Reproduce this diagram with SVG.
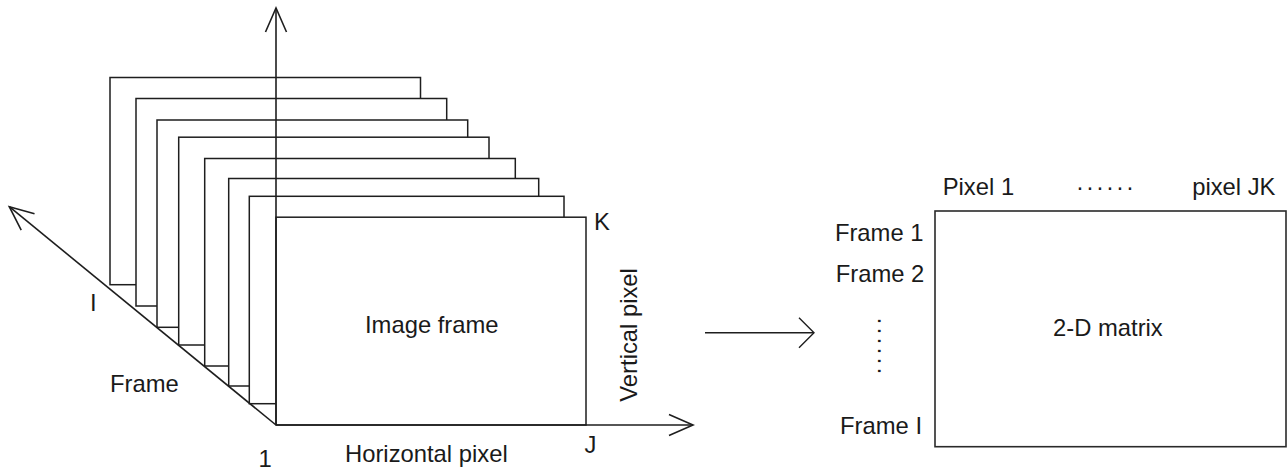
<svg xmlns="http://www.w3.org/2000/svg" width="1287" height="470" viewBox="0 0 1287 470">
  <style>
    .frame { fill: #ffffff; stroke: #1e1e1e; stroke-width: 1.5; }
    .matrix { fill: #ffffff; stroke: #2a2a2a; stroke-width: 1.6; }
    .axis { fill: none; stroke: #1e1e1e; stroke-width: 1.6; }
    .lbl { font-family: "Liberation Sans", Arial, sans-serif; font-size: 23.8px; fill: #1a1a1a; }
    .end { text-anchor: end; }
    .dots { font-family: "Liberation Sans", Arial, sans-serif; font-size: 23.8px; fill: #1a1a1a; letter-spacing: 2.1px; }
  </style>
  <defs>
    <!-- open chevron heads for the three axes -->
    <marker id="axisHead" markerUnits="userSpaceOnUse" viewBox="-26 -13 28 26" refX="0" refY="0" markerWidth="28" markerHeight="26" orient="auto" overflow="visible">
      <path d="M -24 -10.5 L 0 0 L -24 10.5" fill="none" stroke="#1e1e1e" stroke-width="1.6"/>
    </marker>
    <!-- wider chevron for the conversion arrow -->
    <marker id="convHead" markerUnits="userSpaceOnUse" viewBox="-17 -17 19 34" refX="0" refY="0" markerWidth="19" markerHeight="34" orient="auto" overflow="visible">
      <path d="M -15 -15 L 0 0 L -15 15" fill="none" stroke="#1e1e1e" stroke-width="1.4"/>
    </marker>
  </defs>

  <!-- stack of image frames, back to front -->
  <g id="frame-1"><rect class="frame" x="110" y="77.5" width="310.5" height="207.2"/></g>
  <g id="frame-2"><rect class="frame" x="136" y="98.5" width="310.7" height="207.5"/></g>
  <g id="frame-3"><rect class="frame" x="157" y="120" width="310.7" height="207.3"/></g>
  <g id="frame-4"><rect class="frame" x="178.7" y="137.2" width="310.3" height="207.8"/></g>
  <g id="frame-5"><rect class="frame" x="204.7" y="158.5" width="310.6" height="207.5"/></g>
  <g id="frame-6"><rect class="frame" x="228.7" y="178.5" width="310" height="207.5"/></g>
  <g id="frame-7"><rect class="frame" x="249.3" y="196.3" width="314.7" height="207.4"/></g>
  <g id="frame-front">
    <rect class="frame" x="276" y="217.2" width="310" height="207.8"/>
    <text class="lbl" x="365" y="333">Image frame</text>
  </g>

  <!-- 2-D matrix -->
  <g id="matrix">
    <rect class="matrix" x="935" y="211" width="351" height="235.7"/>
    <text class="lbl" x="1053" y="336">2-D matrix</text>
  </g>

  <!-- axes and conversion arrow -->
  <g id="connectors">
    <line class="axis" x1="276" y1="425" x2="276" y2="8" marker-end="url(#axisHead)"/>
    <line class="axis" x1="276" y1="425" x2="693" y2="425" marker-end="url(#axisHead)"/>
    <line class="axis" x1="276" y1="425" x2="9.3" y2="206.7" marker-end="url(#axisHead)"/>
    <line class="axis" x1="705" y1="332.7" x2="814" y2="332.7" stroke-width="1.4" marker-end="url(#convHead)"/>
  </g>

  <!-- axis labels -->
  <g id="axis-labels">
    <text class="lbl" x="594" y="230">K</text>
    <text class="lbl" transform="translate(637,401.7) rotate(-90)">Vertical pixel</text>
    <text class="lbl" x="584.5" y="453">J</text>
    <text class="lbl" x="345" y="461.7">Horizontal pixel</text>
    <text class="lbl" x="258.5" y="466.7">1</text>
    <text class="lbl" x="110" y="391.7">Frame</text>
    <text class="lbl" x="90" y="311">I</text>
  </g>

  <!-- matrix row / column labels -->
  <g id="matrix-labels">
    <text class="lbl" x="942.7" y="195">Pixel 1</text>
    <text class="dots" x="1076" y="195">······</text>
    <text class="lbl end" x="1275.5" y="195">pixel JK</text>
    <text class="lbl end" x="923.5" y="240.7">Frame 1</text>
    <text class="lbl end" x="924.3" y="281.7">Frame 2</text>
    <text class="dots" transform="translate(872.5,317) rotate(90)">······</text>
    <text class="lbl end" x="922" y="434">Frame I</text>
  </g>
</svg>
